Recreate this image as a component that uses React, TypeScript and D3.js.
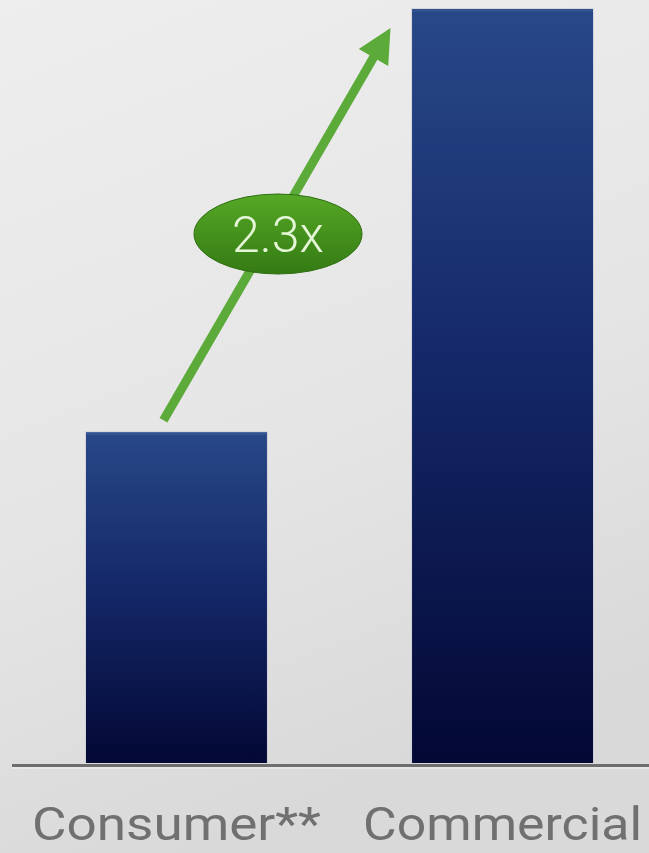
import React from "react";
import * as d3 from "d3";

const categories = ["Consumer**", "Commercial"];
const values = [1.0, 2.28];
const multiplierLabel = "2.3x";

const W = 649;
const H = 853;

export default function App() {
  const x = d3
    .scaleBand<string>()
    .domain(categories)
    .range([86, 593])
    .paddingInner(0.445)
    .paddingOuter(0);
  const y = d3.scaleLinear().domain([0, 2.28]).range([763, 9]);

  const bw = x.bandwidth();
  const c0 = (x(categories[0]) as number) + bw / 2;
  const c1 = (x(categories[1]) as number) + bw / 2;

  // arrow from top of consumer bar toward commercial bar top
  const ax0 = c0 - 13;
  const ay0 = y(values[0]) - 12;
  const ax1 = c1 - 112;
  const ay1 = y(values[1]) + 19;
  const ang = Math.atan2(ay1 - ay0, ax1 - ax0);
  const headLen = 34;
  const headW = 17;
  const bx = ax1 - headLen * Math.cos(ang);
  const by = ay1 - headLen * Math.sin(ang);
  const px = -Math.sin(ang);
  const py = Math.cos(ang);
  const head = `M${ax1},${ay1} L${bx + px * headW},${by + py * headW} L${bx - px * headW},${by - py * headW} Z`;

  const ecx = 278;
  const ecy = 234;

  return (
    <svg
      width={W}
      height={H}
      style={{ position: "absolute", left: 0, top: 0 }}
      xmlns="http://www.w3.org/2000/svg"
    >
      <defs>
        <linearGradient id="bg" x1="0" y1="0" x2="0.3" y2="1">
          <stop offset="0" stopColor="#eeeeee" />
          <stop offset="0.6" stopColor="#e5e5e5" />
          <stop offset="1" stopColor="#d9d9d9" />
        </linearGradient>
        <linearGradient id="bar" x1="0" y1="0" x2="0" y2="1">
          <stop offset="0" stopColor="#284887" />
          <stop offset="0.45" stopColor="#15296a" />
          <stop offset="1" stopColor="#030834" />
        </linearGradient>
        <linearGradient id="ell" x1="0" y1="0" x2="0" y2="1">
          <stop offset="0" stopColor="#56a826" />
          <stop offset="1" stopColor="#347a14" />
        </linearGradient>
      </defs>
      <rect x={0} y={0} width={W} height={H} fill="url(#bg)" />

      {categories.map((c, i) => {
        const x0 = x(c) as number;
        const top = y(values[i]);
        return (
          <g key={c}>
            <rect
              x={x0 - 1}
              y={top - 1}
              width={bw + 2}
              height={y(0) - top + 1}
              fill="#c9cbd6"
              opacity={0.7}
            />
            <rect x={x0} y={top} width={bw} height={y(0) - top} fill="url(#bar)" />
            <rect x={x0} y={top} width={bw} height={3} fill="#3a5a98" opacity={0.6} />
          </g>
        );
      })}

      <line x1={12} x2={W} y1={765.5} y2={765.5} stroke="#6e6e6e" strokeWidth={3} />
      <line x1={12} x2={W} y1={768} y2={768} stroke="#f2f2f2" strokeWidth={1.5} opacity={0.7} />

      {categories.map((c, i) => (
        <text
          key={c}
          x={(x(c) as number) + bw / 2}
          y={840}
          textAnchor="middle"
          fontFamily="Roboto, 'Noto Sans', sans-serif"
          fontWeight={400}
          fontSize={47}
          fill="#707070"
          textLength={i === 0 ? 289 : 279}
          lengthAdjust="spacingAndGlyphs"
        >
          {c}
        </text>
      ))}

      <line
        x1={ax0}
        y1={ay0}
        x2={bx + 4 * Math.cos(ang)}
        y2={by + 4 * Math.sin(ang)}
        stroke="#5caa3a"
        strokeWidth={9}
      />
      <path d={head} fill="#5caa3a" />

      <ellipse cx={ecx} cy={ecy} rx={84} ry={40} fill="url(#ell)" stroke="#2f6e12" strokeWidth={1} />
      <text
        x={ecx}
        y={ecy + 18}
        textAnchor="middle"
        fontFamily="Roboto, 'Noto Sans', sans-serif"
        fontWeight={300}
        fontSize={50}
        fill="#e4f6d6"
      >
        {multiplierLabel}
      </text>
    </svg>
  );
}
